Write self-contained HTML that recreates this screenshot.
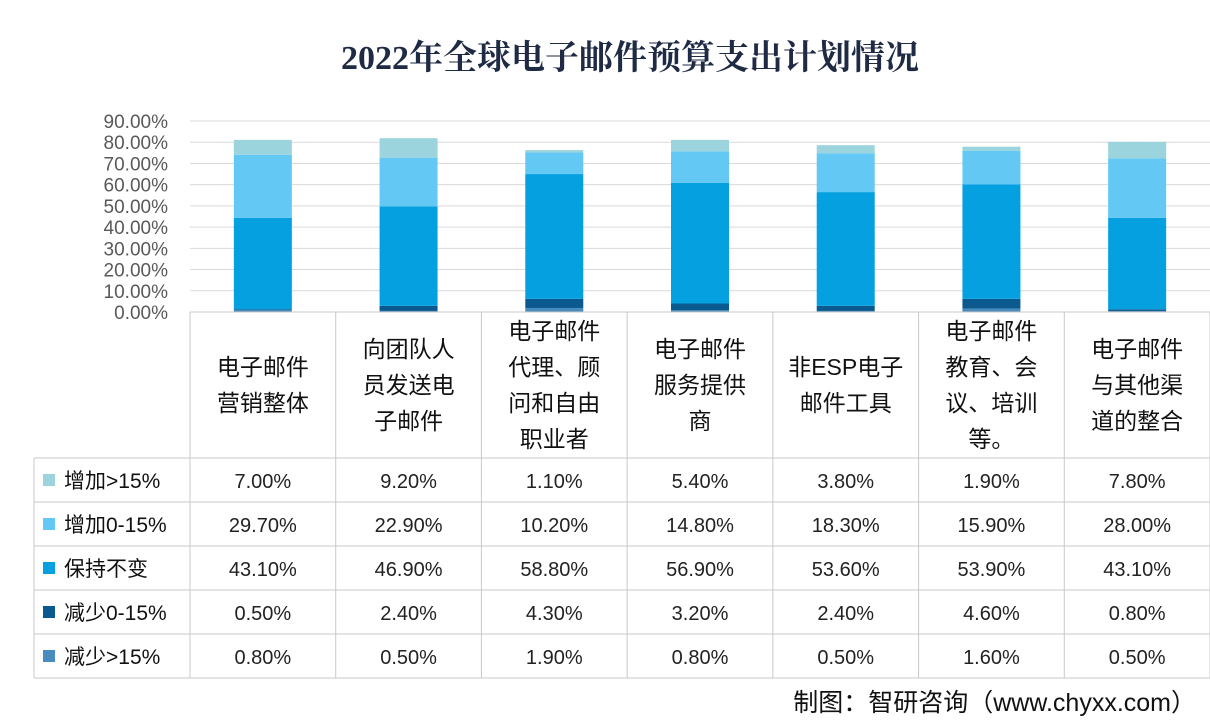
<!DOCTYPE html>
<html><head><meta charset="utf-8"><style>
body{margin:0;width:1210px;height:728px;background:#fff;overflow:hidden;font-family:"Liberation Sans","Noto Sans CJK SC",sans-serif;position:relative}
#title{position:absolute;left:0;width:1260px;top:30px;text-align:center;font:bold 34px "Liberation Serif","Noto Serif CJK SC",serif;color:#1f2a44}
#foot{position:absolute;right:14px;top:683px;font-size:25px;color:#111}
</style></head><body>
<div id="title">2022年全球电子邮件预算支出计划情况</div>
<svg id="c" width="1210" height="728" style="position:absolute;left:0;top:0"></svg>
<div id="foot">制图：智研咨询（www.chyxx.com）</div>
<script>
const categories=[["电子邮件","营销整体"],["向团队人","员发送电","子邮件"],["电子邮件","代理、顾","问和自由","职业者"],["电子邮件","服务提供","商"],["非ESP电子","邮件工具"],["电子邮件","教育、会","议、培训","等。"],["电子邮件","与其他渠","道的整合"]];
const seriesNames=["增加>15%","增加0-15%","保持不变","减少0-15%","减少>15%"];
const inc15=[7.0,9.2,1.1,5.4,3.8,1.9,7.8];
const inc0=[29.7,22.9,10.2,14.8,18.3,15.9,28.0];
const keep=[43.1,46.9,58.8,56.9,53.6,53.9,43.1];
const dec0=[0.5,2.4,4.3,3.2,2.4,4.6,0.8];
const dec15=[0.8,0.5,1.9,0.8,0.5,1.6,0.5];
const yTicks=[0,10,20,30,40,50,60,70,80,90];
const colors=["#9bd4dc","#63c8f4","#05a0e0","#0b5a8f","#4a8bbd"];
const series=[inc15,inc0,keep,dec0,dec15];
const NS="http://www.w3.org/2000/svg",svg=document.getElementById('c');
function el(t,a,p){const e=document.createElementNS(NS,t);for(const k in a)e.setAttribute(k,a[k]);(p||svg).appendChild(e);return e;}
const x0=190,colW=(1210-190)/7,y0=312,yTop=121,yMax=90;
const Y=v=>y0-(v/yMax)*(y0-yTop);
const X=i=>x0+colW*i;
yTicks.forEach(t=>{
 const l=el('line',{x1:x0,x2:1210,y1:Y(t),y2:Y(t),stroke:'#d9d9d9','stroke-width':1});
 
 const tx=el('text',{x:168,y:Y(t)+7,'text-anchor':'end','font-size':19,fill:'#595959'});
 tx.textContent=t.toFixed(2)+'%';
 
});
const bw=58;
categories.forEach((c,i)=>{
 let acc=0;
 for(let s=4;s>=0;s--){
  const v=series[s][i];
  const r=el('rect',{x:X(i)+colW/2-bw/2,y:Y(acc+v),width:bw,height:Y(acc)-Y(acc+v),fill:colors[s]});
  
  acc+=v;
 }
});
// table
const rowTop=458,rowH=44,tl=34;
const g='#c8c8c8';
el('line',{x1:x0,x2:1210,y1:y0,y2:y0,stroke:g});
for(let i=0;i<=7;i++){el('line',{x1:X(i),x2:X(i),y1:y0,y2:rowTop+5*rowH,stroke:g});}
el('line',{x1:tl,x2:tl,y1:rowTop,y2:rowTop+5*rowH,stroke:g});
for(let r=0;r<=5;r++)el('line',{x1:tl,x2:1210,y1:rowTop+r*rowH,y2:rowTop+r*rowH,stroke:g});
categories.forEach((c,i)=>{
 const n=c.length,lh=36,start=(y0+rowTop)/2-(n-1)*lh/2+8;
 c.forEach((s,k)=>{const t=el('text',{x:X(i)+colW/2,y:start+k*lh,'text-anchor':'middle','font-size':23,fill:'#111'});t.textContent=s;
  });
});
seriesNames.forEach((n,s)=>{
 const cy=rowTop+s*rowH+rowH/2;
 const k=el('rect',{x:43,y:cy-6,width:12,height:12,fill:colors[s]});
 
 const t=el('text',{x:64,y:cy+8,'font-size':21,fill:'#111'});t.textContent=n;
 
 series[s].forEach((v,i)=>{
  const tv=el('text',{x:X(i)+colW/2,y:cy+8,'text-anchor':'middle','font-size':20,fill:'#222'});tv.textContent=v.toFixed(2)+'%';
  
 });
});
</script>
</body></html>
